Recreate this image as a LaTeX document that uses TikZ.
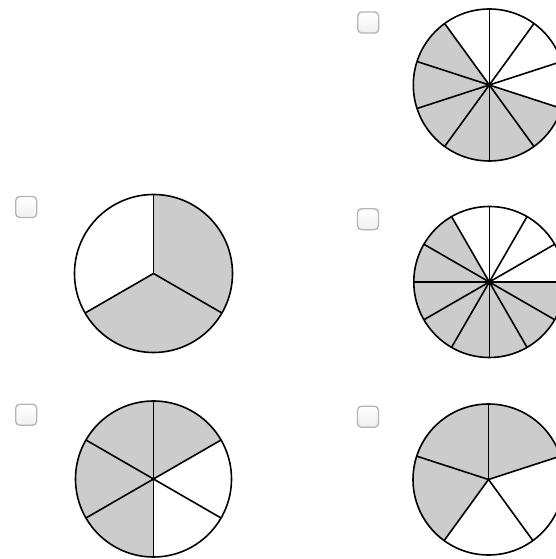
\documentclass[tikz,border=0pt]{standalone}
\usepackage{xcolor}
\definecolor{piegray}{HTML}{CCCCCC}
\definecolor{boxgray}{HTML}{B4B4B4}
% pie in n parts: centre, radius, parts, shaded parts (0 = first part clockwise from top)
\newcommand{\fracpie}[4]{%
  \foreach \k in {#4}
    \fill[piefill] (#1) -- ++({90-360/#3*\k}:#2) arc[start angle={90-360/#3*\k}, delta angle={-360/#3}, radius=#2] -- cycle;
  \foreach \k in {1,...,#3}
    \draw[pieline] (#1) -- ++({90-360/#3*\k}:#2);
  \draw[pieline] (#1) circle[radius=#2];
}

\begin{document}
\begin{tikzpicture}[
  x=1pt, y=1pt,
  piefill/.style={fill=piegray},
  pieline/.style={draw=black,line width=1.6pt,line join=round},
  checkbox/.style={draw=boxgray,line width=1.3pt,rounded corners=4pt,minimum size=21pt,inner sep=0pt,top color=white,bottom color=gray!12}]
\useasboundingbox (0,0) rectangle (556,559);
\clip (0,0) rectangle (556,559);
\fill[white] (0,0) rectangle (556,559);
% centres of the pies
\coordinate (pieTR) at (489.3,474);
\coordinate (pieMR) at (489.3,277);
\coordinate (pieBR) at (488.5,79.5);
\coordinate (pieML) at (153.5,285.5);
\coordinate (pieBL) at (153.5,80);
% checkboxes
\node[checkbox] (cbTR) at (368.3,536.5) {};
\node[checkbox] (cbMR) at (368.0,339.8) {};
\node[checkbox] (cbBR) at (368.0,142.3) {};
\node[checkbox] (cbML) at (26.2,352.0) {};
\node[checkbox] (cbBL) at (26.2,144.3) {};
% pies
\fracpie{pieTR}{76}{10}{3,...,8}
\fracpie{pieMR}{75.5}{12}{3,...,10}
\fracpie{pieBR}{75.5}{5}{0,3,4}
\fracpie{pieML}{79}{3}{0,1}
\fracpie{pieBL}{78}{6}{0,3,4,5}
\end{tikzpicture}
\end{document}
